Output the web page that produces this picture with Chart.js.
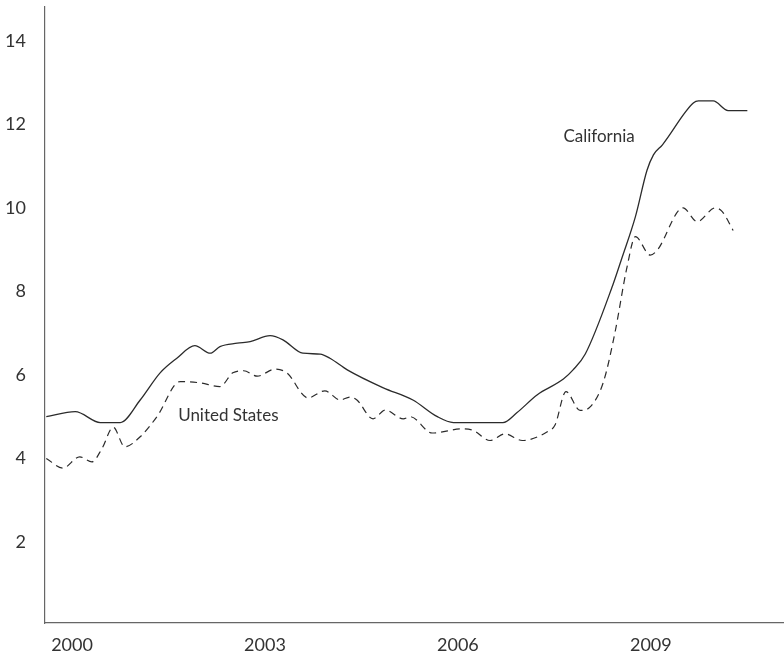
<!DOCTYPE html>
<html>
<head>
<meta charset="utf-8">
<script src="https://cdn.jsdelivr.net/npm/chart.js@4.4.1/dist/chart.umd.min.js"></script>
<style>
  html, body { margin: 0; padding: 0; background: #fff; }
  #wrap { width: 784px; height: 661px; }
</style>
</head>
<body>
<div id="wrap"><canvas id="chart"></canvas></div>
<script>
// California (solid) - decimal years and rates
const caYears = [2000.02, 2000.47, 2000.86, 2001.17, 2001.48, 2001.79, 2002.05, 2002.33, 2002.57, 2002.72,
    2002.99, 2003.19, 2003.50, 2003.70, 2004.01, 2004.28, 2004.43, 2004.70, 2005.26, 2005.72,
    2006.10, 2006.35, 2007.12, 2007.34, 2007.65, 2008.06, 2008.21, 2008.40, 2008.83, 2008.97,
    2009.18, 2009.36, 2009.46, 2009.60, 2010.08, 2010.16, 2010.39, 2010.62, 2010.92];
const caRates = [5.0, 5.12, 4.86, 4.86, 5.4, 6.05, 6.4, 6.7, 6.52, 6.68,
    6.76, 6.8, 6.94, 6.84, 6.52, 6.5, 6.4, 6.12, 5.69, 5.4,
    5.0, 4.86, 4.86, 5.1, 5.52, 5.9, 6.12, 6.5, 8.16, 8.8,
    9.79, 10.9, 11.27, 11.51, 12.51, 12.56, 12.56, 12.33, 12.33];

// United States (dashed)
const usYears = [2000.02, 2000.28, 2000.54, 2000.73, 2000.89, 2001.06, 2001.24, 2001.48, 2001.74, 2002.10,
    2002.41, 2002.72, 2002.92, 2003.09, 2003.30, 2003.58, 2003.76, 2004.09, 2004.35, 2004.59,
    2004.74, 2004.85, 2005.10, 2005.29, 2005.57, 2005.68, 2006.02, 2006.50, 2006.66, 2006.92,
    2007.15, 2007.42, 2007.81, 2007.93, 2008.10, 2008.32, 2008.48, 2008.68, 2008.86, 2009.05,
    2009.18, 2009.41, 2009.52, 2009.92, 2010.14, 2010.42, 2010.53, 2010.70];
const usRates = [4.0, 3.77, 4.04, 3.92, 4.25, 4.75, 4.28, 4.52, 5.0, 5.84,
    5.81, 5.72, 6.05, 6.1, 5.97, 6.14, 6.05, 5.45, 5.62, 5.4,
    5.47, 5.4, 4.95, 5.16, 4.95, 5.0, 4.61, 4.71, 4.67, 4.43,
    4.59, 4.43, 4.64, 4.8, 5.6, 5.15, 5.24, 5.82, 7.0, 8.59,
    9.31, 8.87, 8.99, 10.0, 9.67, 10.0, 9.91, 9.46];

const tickYears = [2000, 2003, 2006, 2009];
const yTicks = [2, 4, 6, 8, 10, 12, 14];
const labelShift = 0.42; // year labels sit a little into each year

// Series names placed on the chart: [text, year, rate] of the text's left/middle
const seriesLabels = [
    ["California", 2008.06, 11.7],
    ["United States", 2002.07, 5.02]
];

const textColor = "#333";
const fontFamily = "Lato, 'Open Sans', sans-serif";

function toPoints(xs, ys) {
    return xs.map((x, i) => ({ x: x, y: ys[i] }));
}

const labelPlugin = {
    id: "seriesLabels",
    afterDatasetsDraw(chart) {
        const ctx = chart.ctx;
        const xs = chart.scales.x;
        const ys = chart.scales.y;
        ctx.save();
        ctx.fillStyle = textColor;
        ctx.font = "17px " + fontFamily;
        ctx.textAlign = "left";
        ctx.textBaseline = "middle";
        seriesLabels.forEach(([text, yr, val]) => {
            ctx.fillText(text, xs.getPixelForValue(yr), ys.getPixelForValue(val));
        });
        ctx.restore();
    }
};

const ctx = document.getElementById("chart").getContext("2d");
new Chart(ctx, {
    type: "line",
    data: {
        datasets: [
            {
                label: "California",
                data: toPoints(caYears, caRates),
                borderColor: "#2b2b2b",
                borderWidth: 1.3,
                pointRadius: 0,
                fill: false,
                cubicInterpolationMode: "monotone"
            },
            {
                label: "United States",
                data: toPoints(usYears, usRates),
                borderColor: "#2b2b2b",
                borderWidth: 1.2,
                borderDash: [7, 5],
                pointRadius: 0,
                fill: false,
                cubicInterpolationMode: "monotone"
            }
        ]
    },
    options: {
        responsive: true,
        maintainAspectRatio: false,
        animation: false,
        layout: { padding: { top: 7, right: 0, left: 0, bottom: 0 } },
        plugins: {
            legend: { display: false },
            tooltip: { enabled: false }
        },
        scales: {
            x: {
                type: "linear",
                min: 2000,
                max: 2011.49,
                grid: { display: false, drawTicks: false },
                border: { display: true, color: "#666", width: 1.2 },
                afterBuildTicks: (scale) => {
                    scale.ticks = tickYears.map(y => ({ value: y + labelShift }));
                },
                afterFit: (scale) => {
                    scale.height = 38;
                    scale.paddingLeft = 0;
                    scale.paddingRight = 0;
                },
                ticks: {
                    color: textColor,
                    font: { family: fontFamily, size: 18 },
                    padding: 11,
                    maxRotation: 0,
                    callback: (v, i) => String(tickYears[i])
                }
            },
            y: {
                min: 0.06,
                max: 14.81,
                grid: { display: false, drawTicks: false },
                border: { display: true, color: "#666", width: 1.2 },
                afterBuildTicks: (scale) => {
                    scale.ticks = yTicks.map(v => ({ value: v }));
                },
                afterFit: (scale) => {
                    scale.width = 45;
                    scale.paddingTop = 0;
                    scale.paddingBottom = 0;
                },
                ticks: {
                    color: textColor,
                    font: { family: fontFamily, size: 18 },
                    padding: 19
                }
            }
        }
    },
    plugins: [labelPlugin]
});
</script>
</body>
</html>
